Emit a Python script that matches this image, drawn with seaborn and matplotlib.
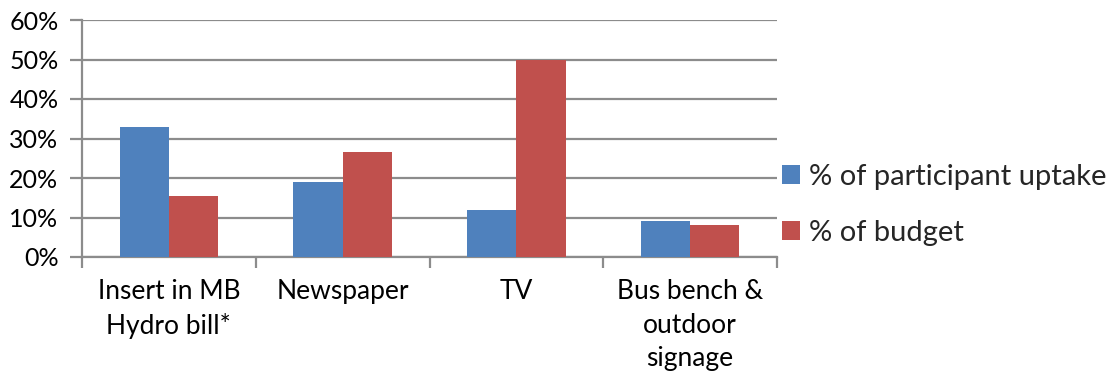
import matplotlib
matplotlib.use("Agg")
import matplotlib.pyplot as plt
import matplotlib.ticker as mticker
import pandas as pd
import seaborn as sns

# Media channels and their shares
categories = ["Insert in MB\nHydro bill*", "Newspaper", "TV", "Bus bench &\noutdoor\nsignage"]
series_names = ["% of participant uptake", "% of budget"]
participant_uptake = [33, 19, 12, 9]
budget_share = [15.4, 26.7, 50, 8]
y_ticks = [0, 10, 20, 30, 40, 50, 60]

df = pd.DataFrame({
    "channel": categories * 2,
    "series": [series_names[0]] * len(categories) + [series_names[1]] * len(categories),
    "value": participant_uptake + budget_share,
})

sns.set_theme(style="white")
plt.rcParams["font.family"] = ["Lato", "DejaVu Sans"]

fig = plt.figure(figsize=(11.15, 3.74), dpi=100)
ax = fig.add_axes([82 / 1115, 1 - 257 / 374, (777 - 82) / 1115, (257 - 20) / 374])

palette = {series_names[0]: "#4F81BD", series_names[1]: "#C0504D"}
sns.barplot(data=df, x="channel", y="value", hue="series", order=categories,
            hue_order=series_names, palette=palette, width=0.568, gap=0,
            saturation=1, edgecolor="none", linewidth=0, ax=ax, zorder=3)

grid_color = "#8C8C8C"
ax.set_ylim(0, 60)
ax.set_xlim(-0.5, len(categories) - 0.5)
ax.set_yticks(y_ticks)
ax.yaxis.set_major_formatter(mticker.FuncFormatter(lambda v, p: f"{int(v)}%"))
ax.yaxis.grid(True, color=grid_color, linewidth=1.6)
ax.set_axisbelow(True)
ax.set_xlabel("")
ax.set_ylabel("")

for side in ["top", "right"]:
    ax.spines[side].set_visible(False)
for side in ["left", "bottom"]:
    ax.spines[side].set_color(grid_color)
    ax.spines[side].set_linewidth(1.6)

ax.tick_params(axis="y", which="major", left=True, length=9, width=1.6,
               color=grid_color, labelsize=18, labelcolor="black", pad=8)
ax.tick_params(axis="x", which="major", bottom=False, length=0,
               labelsize=19, labelcolor="black", pad=16)
ax.set_xticks(range(len(categories)))
ax.set_xticklabels(categories, linespacing=1.42)
ax.set_xticks([i - 0.5 for i in range(len(categories) + 1)], minor=True)
ax.tick_params(axis="x", which="minor", bottom=True, length=8, width=1.6, color=grid_color)

handles, labels = ax.get_legend_handles_labels()
ax.legend_.remove()
fig.legend(handles, labels, loc="center left", bbox_to_anchor=(782 / 1115, 1 - 205 / 374),
           frameon=False, fontsize=21, borderpad=0, borderaxespad=0,
           handlelength=0.62, handleheight=0.62, handletextpad=0.3, labelspacing=1.02)

fig.savefig("out.png", dpi=100)
